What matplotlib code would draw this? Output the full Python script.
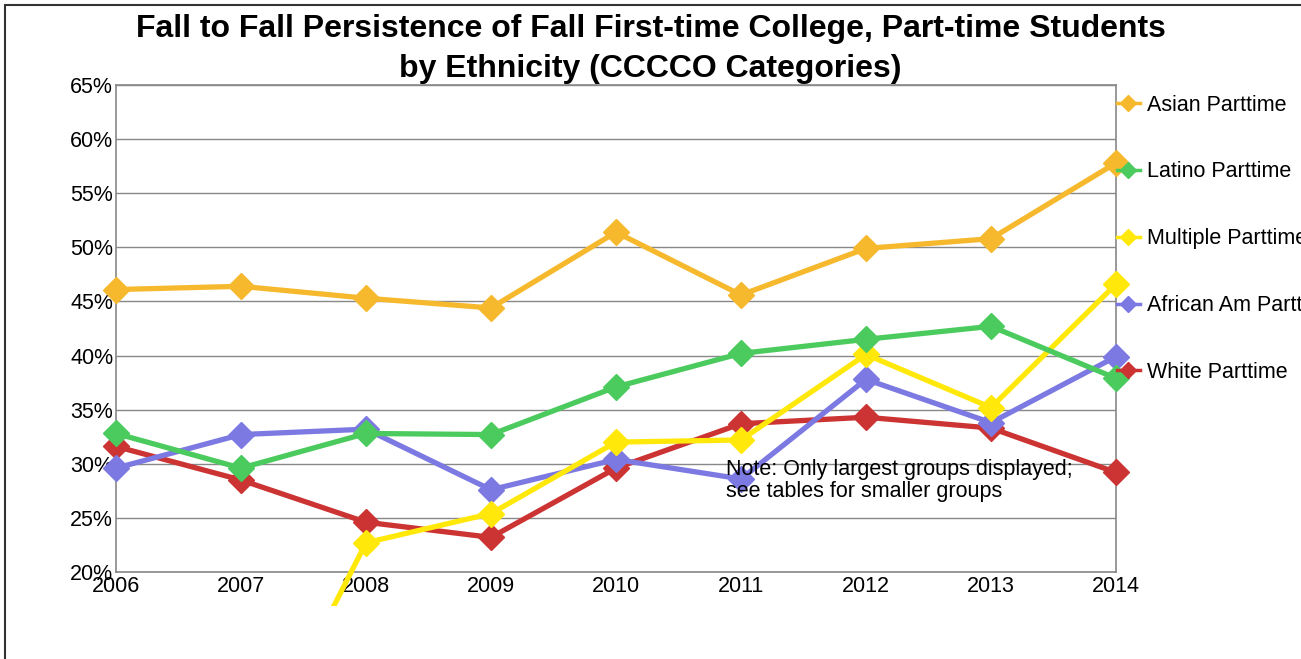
import numpy as np
import matplotlib.pyplot as plt
from matplotlib.lines import Line2D
from matplotlib.patches import Rectangle
from matplotlib.transforms import Bbox, TransformedBbox

plt.rcParams['font.family'] = ['Liberation Sans', 'DejaVu Sans']

# %% data

years = [2006, 2007, 2008, 2009, 2010, 2011, 2012, 2013, 2014]

asian = [46.1, 46.4, 45.3, 44.4, 51.4, 45.6, 49.9, 50.8, 57.8]
latino = [32.8, 29.6, 32.8, 32.7, 37.1, 40.2, 41.5, 42.7, 37.9]
multiple = [0.0, 0.0, 22.7, 25.4, 32.0, 32.2, 40.1, 35.2, 46.6]
african = [29.6, 32.7, 33.2, 27.6, 30.4, 28.6, 37.8, 33.8, 39.9]
white = [31.6, 28.5, 24.6, 23.2, 29.6, 33.7, 34.3, 33.3, 29.2]

names = ['Asian Parttime', 'Latino Parttime', 'Multiple Parttime',
         'African Am Parttime', 'White Parttime']
colors = ['#F6B92E', '#4BCB5E', '#FFE80A', '#7C79E2', '#CC3333']
series = [asian, latino, multiple, african, white]

# %% plot

W, H = 1301, 659
fs = 15.5
fig = plt.figure(figsize=(W / 100, H / 100), dpi=100)
ax = fig.add_axes([116 / W, 1 - 572 / H, 1000 / W, 487 / H])

# clip region for lines: allowed to spill below plot down to y=606 px
clip = TransformedBbox(Bbox([[0, 1 - 606 / H], [1, 1]]), fig.transFigure)

for i in range(len(series) - 1, -1, -1):
    ln, = ax.plot(years, series[i], color=colors[i], lw=3.8, marker='D',
                  markersize=13, zorder=3 + (len(series) - i))
    ln.set_clip_box(clip)

ax.set_xlim(2006, 2014)
ax.set_ylim(20, 65)
ax.set_xticks(years)
ax.set_xticklabels([str(y) for y in years], fontsize=fs)
ax.set_yticks(np.arange(20, 66, 5))
ax.set_yticklabels(['%d%%' % v for v in np.arange(20, 66, 5)], fontsize=fs)
ax.tick_params(axis='both', length=0, pad=2)
ax.tick_params(axis='x', pad=3)
ax.grid(axis='y', color='#888888', lw=1)
ax.set_axisbelow(True)
for s in ax.spines.values():
    s.set_color('#888888')
    s.set_linewidth(1.2)

ax.text(2010.88, 30.4, 'Note: Only largest groups displayed;\nsee tables for smaller groups',
        fontsize=fs, va='top', ha='left', linespacing=1.02, zorder=10)

fig.text(0.5, 1 - 49 / H, 'Fall to Fall Persistence of Fall First-time College, Part-time Students\nby Ethnicity (CCCCO Categories)',
         ha='center', va='center', fontsize=23, fontweight='bold', linespacing=1.4)

handles = [Line2D([0], [0], color=c, lw=2.5, marker='D', markersize=8) for c in colors]
fig.legend(handles, names, loc='upper left', bbox_to_anchor=(1108 / W, 1 - 86 / H),
           frameon=False, fontsize=fs, labelspacing=2.13, handlelength=1.1,
           handletextpad=0.3, borderaxespad=0)

fig.patches.append(Rectangle((5 / W, -0.1), 1.2, 1 - 5 / H + 0.1, transform=fig.transFigure,
                             fill=False, edgecolor='#333333', lw=1.5))

fig.savefig('out.png', dpi=100)
